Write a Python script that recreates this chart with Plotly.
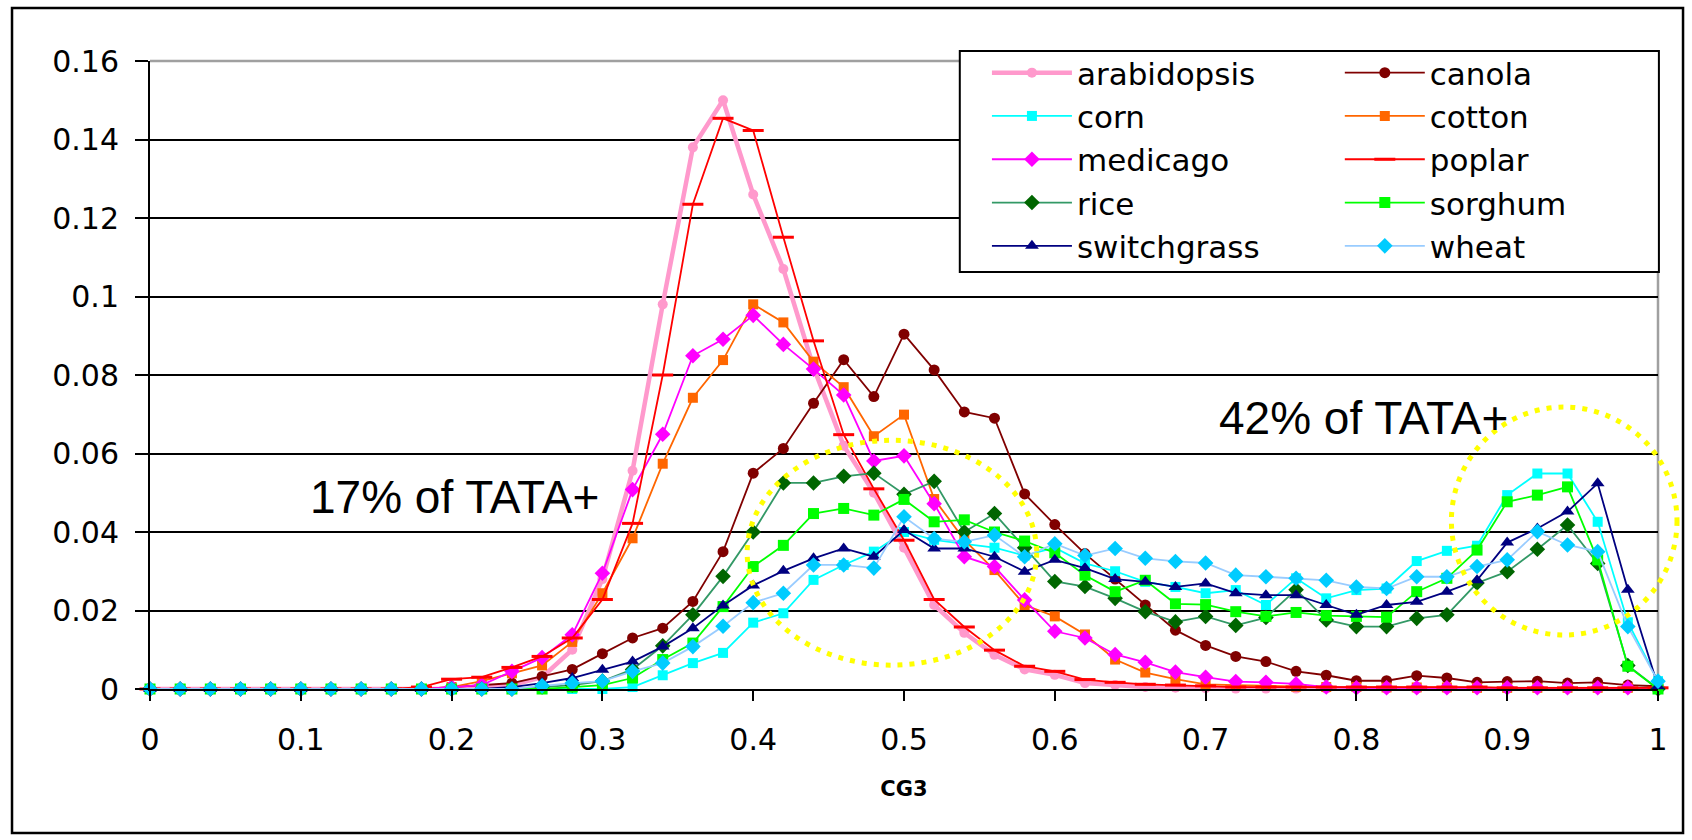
import plotly.graph_objects as go

cg3 = [0, 0.02, 0.04, 0.06, 0.08, 0.1, 0.12, 0.14, 0.16, 0.18,
       0.2, 0.22, 0.24, 0.26, 0.28, 0.3, 0.32, 0.34, 0.36, 0.38,
       0.4, 0.42, 0.44, 0.46, 0.48, 0.5, 0.52, 0.54, 0.56, 0.58,
       0.6, 0.62, 0.64, 0.66, 0.68, 0.7, 0.72, 0.74, 0.76, 0.78,
       0.8, 0.82, 0.84, 0.86, 0.88, 0.9, 0.92, 0.94, 0.96, 0.98, 1.0]

arabidopsis = [0, 0, 0, 0, 0, 0, 0, 0, 0, 0,
               0, 0.0005, 0.001, 0.003, 0.010, 0.028, 0.0556, 0.098, 0.138, 0.150,
               0.126, 0.107, 0.082, 0.062, 0.050, 0.036, 0.0214, 0.0143, 0.0087, 0.005,
               0.0036, 0.0015, 0.001, 0.0005, 0.0003, 0.0002, 0.0001, 0.0001, 0.0001, 0.0001,
               0, 0, 0, 0, 0, 0, 0, 0, 0, 0, 0]
canola = [0, 0, 0, 0, 0, 0, 0, 0, 0, 0,
          0.0005, 0.001, 0.0015, 0.0032, 0.005, 0.009, 0.013, 0.0155, 0.0223, 0.035,
          0.055, 0.0613, 0.0728, 0.0839, 0.0745, 0.0904, 0.0813, 0.0706, 0.069, 0.0497,
          0.0419, 0.0345, 0.028, 0.0214, 0.015, 0.0111, 0.0083, 0.007, 0.0045, 0.0035,
          0.0021, 0.0021, 0.0034, 0.0028, 0.0017, 0.0019, 0.002, 0.0015, 0.0017, 0.001, 0.0007]
corn = [0, 0, 0, 0, 0, 0, 0, 0, 0, 0,
        0, 0, 0, 0, 0, 0, 0.0005, 0.0035, 0.0066, 0.0092,
        0.0169, 0.0193, 0.0278, 0.0316, 0.035, 0.040, 0.038, 0.037, 0.036, 0.034,
        0.036, 0.032, 0.030, 0.0273, 0.026, 0.0244, 0.0252, 0.0214, 0.0282, 0.0231,
        0.0252, 0.0256, 0.0326, 0.0352, 0.0365, 0.0494, 0.0549, 0.0549, 0.0426, 0.017, 0.002]
cotton = [0, 0, 0, 0, 0, 0, 0, 0, 0, 0,
          0.0005, 0.002, 0.004, 0.006, 0.012, 0.0244, 0.0384, 0.0574, 0.0742, 0.0838,
          0.098, 0.0934, 0.0834, 0.0769, 0.0644, 0.0699, 0.0484, 0.038, 0.0303, 0.0214,
          0.0185, 0.0139, 0.0075, 0.0042, 0.0025, 0.0012, 0.001, 0.0008, 0.0006, 0.0005,
          0.0005, 0.0004, 0.0004, 0.0004, 0.0003, 0.0003, 0.0003, 0.0003, 0.0003, 0.0003, 0.0003]
medicago = [0, 0, 0, 0, 0, 0, 0, 0, 0, 0,
            0.0005, 0.001, 0.0045, 0.008, 0.0138, 0.0295, 0.0508, 0.0649, 0.0849, 0.0891,
            0.0952, 0.0878, 0.0815, 0.0749, 0.0581, 0.0594, 0.0472, 0.0337, 0.0312, 0.0227,
            0.0147, 0.013, 0.0088, 0.0068, 0.0043, 0.003, 0.0019, 0.0017, 0.0013, 0.0005,
            0.0003, 0.0003, 0.0003, 0.0003, 0.0003, 0.0003, 0.0003, 0.0003, 0.0003, 0.0003, 0.0003]
poplar = [0, 0, 0, 0, 0, 0, 0, 0, 0, 0.0005,
          0.0025, 0.003, 0.0055, 0.0083, 0.013, 0.0228, 0.0422, 0.080, 0.1235, 0.1454,
          0.1423, 0.1151, 0.0887, 0.0648, 0.051, 0.0379, 0.0228, 0.0158, 0.0099, 0.0058,
          0.0045, 0.0024, 0.0017, 0.0012, 0.001, 0.0008, 0.0005, 0.0005, 0.0005, 0.0005,
          0.0005, 0.0005, 0.0005, 0.0005, 0.0005, 0.0003, 0.0003, 0.0003, 0.0003, 0.0003, 0.0003]
rice = [0, 0, 0, 0, 0, 0, 0, 0, 0, 0,
        0, 0, 0, 0.0005, 0.001, 0.002, 0.005, 0.011, 0.0189, 0.0287,
        0.040, 0.0525, 0.0525, 0.0542, 0.055, 0.0496, 0.0529, 0.040, 0.0447, 0.036,
        0.0274, 0.0261, 0.0231, 0.0197, 0.0171, 0.0185, 0.0162, 0.0182, 0.0253, 0.0176,
        0.0159, 0.0159, 0.018, 0.0189, 0.027, 0.0299, 0.0356, 0.0418, 0.032, 0.006, 0]
sorghum = [0, 0, 0, 0, 0, 0, 0, 0, 0, 0,
           0, 0, 0, 0, 0.0005, 0.001, 0.0028, 0.0075, 0.0117, 0.021,
           0.0312, 0.0366, 0.0447, 0.046, 0.0443, 0.0483, 0.0426, 0.0431, 0.040, 0.0377,
           0.0347, 0.029, 0.0248, 0.0277, 0.0217, 0.0215, 0.0197, 0.0185, 0.0195, 0.0187,
           0.0185, 0.0183, 0.0248, 0.0282, 0.0354, 0.0477, 0.0494, 0.0515, 0.0329, 0.0058, 0]
switchgrass = [0, 0, 0, 0, 0, 0, 0, 0, 0, 0,
               0, 0, 0.0005, 0.0015, 0.0028, 0.0049, 0.007, 0.0108, 0.0155, 0.0213,
               0.0264, 0.0301, 0.0333, 0.0358, 0.0337, 0.0405, 0.0358, 0.0358, 0.0337, 0.0299,
               0.0329, 0.0308, 0.028, 0.0273, 0.026, 0.0269, 0.0244, 0.0239, 0.0239, 0.0214,
               0.0189, 0.0214, 0.0222, 0.0248, 0.0277, 0.0373, 0.0409, 0.0452, 0.0524, 0.0253, 0.0007]
wheat = [0, 0, 0, 0, 0, 0, 0, 0, 0, 0,
         0, 0, 0, 0.0008, 0.0015, 0.002, 0.0045, 0.0066, 0.0108, 0.016,
         0.022, 0.0244, 0.0316, 0.0316, 0.0308, 0.0439, 0.0383, 0.0375, 0.0392, 0.0337,
         0.037, 0.034, 0.0358, 0.0333, 0.0325, 0.0321, 0.029, 0.0286, 0.0282, 0.0277,
         0.026, 0.0256, 0.0286, 0.0286, 0.0312, 0.0329, 0.0401, 0.0367, 0.035, 0.0159, 0.002]

y_tick_vals = [0, 0.02, 0.04, 0.06, 0.08, 0.1, 0.12, 0.14, 0.16]
y_tick_text = ["0", "0.02", "0.04", "0.06", "0.08", "0.1", "0.12", "0.14", "0.16"]
x_tick_vals = [0, 0.1, 0.2, 0.3, 0.4, 0.5, 0.6, 0.7, 0.8, 0.9, 1.0]
x_tick_text = ["0", "0.1", "0.2", "0.3", "0.4", "0.5", "0.6", "0.7", "0.8", "0.9", "1"]

FONT = "Liberation Sans, Arial, sans-serif"
WIDE = "DejaVu Sans, Verdana, sans-serif"

# name, values, line colour, line width, marker symbol, marker colour, marker size, legend
series = [
    ("arabidopsis", arabidopsis, "#FF99CC", 4.5, "circle", "#FF99CC", 10, "legend"),
    ("canola", canola, "#800000", 1.8, "circle", "#800000", 11, "legend2"),
    ("corn", corn, "#00FFFF", 1.8, "square", "#00FFFF", 10, "legend"),
    ("cotton", cotton, "#FF6600", 1.8, "square", "#FF6600", 10, "legend2"),
    ("medicago", medicago, "#FF00FF", 1.8, "diamond", "#FF00FF", 12, "legend"),
    ("poplar", poplar, "#FF0000", 1.8, "line-ew", "#FF0000", 15, "legend2"),
    ("rice", rice, "#339966", 1.8, "diamond", "#006600", 12, "legend"),
    ("sorghum", sorghum, "#00FF00", 1.8, "square", "#00FF00", 11, "legend2"),
    ("switchgrass", switchgrass, "#000080", 1.8, "triangle-up", "#000080", 12, "legend"),
    ("wheat", wheat, "#99CCFF", 1.8, "diamond", "#00CCFF", 12, "legend2"),
]

fig = go.Figure()
for name, vals, lc, lw, sym, mc, ms, lg in series:
    marker = dict(symbol=sym, color=mc, size=ms)
    if sym == "line-ew":
        marker = dict(symbol=sym, size=ms, line=dict(color=mc, width=3))
    fig.add_trace(go.Scatter(
        x=cg3, y=vals, name=name, mode="lines+markers",
        line=dict(color=lc, width=lw), marker=marker,
        legend=lg, legendgroup=name, cliponaxis=False,
    ))

legend_common = dict(yanchor="top", xanchor="left", y=1.0239,
                     bgcolor="rgba(0,0,0,0)", borderwidth=0,
                     font=dict(family=WIDE, size=31, color="black"),
                     itemwidth=80, tracegroupgap=0, traceorder="normal")

fig.update_layout(
    width=1692, height=840,
    margin=dict(l=150, r=34, t=61, b=151),
    paper_bgcolor="white", plot_bgcolor="white",
    font=dict(family=WIDE, size=30, color="black"),
    showlegend=True,
    legend=dict(x=0.555, **legend_common),
    legend2=dict(x=0.789, **legend_common),
    xaxis=dict(range=[0, 1], tickvals=x_tick_vals, ticktext=x_tick_text,
               showgrid=False, zeroline=False, showline=True, linecolor="black",
               linewidth=2, ticks="outside", ticklen=10, tickwidth=2,
               tickcolor="black", ticklabelstandoff=13,
               tickfont=dict(family=WIDE, size=30),
               title=dict(text="<b>CG3</b>", font=dict(family=WIDE, size=21),
                          standoff=25)),
    yaxis=dict(range=[0, 0.16], tickvals=y_tick_vals, ticktext=y_tick_text,
               showgrid=True, gridcolor="black", gridwidth=2,
               zeroline=False, showline=True, linecolor="black", linewidth=2,
               ticks="outside", ticklen=13, tickwidth=2, tickcolor="black",
               ticklabelstandoff=10,
               tickfont=dict(family=WIDE, size=30)),
)

shapes = [
    # plot-area top and right border (grey)
    dict(type="line", xref="paper", yref="paper", x0=0, x1=1, y0=1, y1=1,
         line=dict(color="#A0A0A0", width=2.5), layer="above"),
    dict(type="line", xref="paper", yref="paper", x0=1, x1=1, y0=0, y1=1,
         line=dict(color="#A0A0A0", width=2.5), layer="below"),
    # legend box
    dict(type="rect", xref="paper", yref="paper", x0=0.537, x1=1.0006,
         y0=(689 - 272) / 628, y1=(689 - 51) / 628,
         line=dict(color="black", width=2), fillcolor="white", layer="above"),
    # outer chart border
    dict(type="rect", xref="paper", yref="paper", x0=-0.0915, x1=1.0166,
         y0=-0.2293, y1=1.0844, line=dict(color="black", width=2.5)),
    # yellow dotted ellipses
    dict(type="circle", xref="paper", yref="paper", x0=0.396, x1=0.588,
         y0=0.038, y1=0.396, line=dict(color="#FFFF00", width=5, dash="5px,7px"),
         layer="above"),
    dict(type="circle", xref="paper", yref="paper", x0=0.863, x1=1.0126,
         y0=0.086, y1=0.449, line=dict(color="#FFFF00", width=5, dash="5px,7px"),
         layer="above"),
]
fig.update_layout(shapes=shapes)

fig.add_annotation(x=0.1048, y=0.0489, xref="x", yref="y", text="17% of TATA+",
                   showarrow=False, xanchor="left", yanchor="middle",
                   font=dict(family=FONT, size=46, color="black"))
fig.add_annotation(x=0.7076, y=0.069, xref="x", yref="y", text="42% of TATA+",
                   showarrow=False, xanchor="left", yanchor="middle",
                   font=dict(family=FONT, size=46, color="black"))

fig.write_html("out.html")
